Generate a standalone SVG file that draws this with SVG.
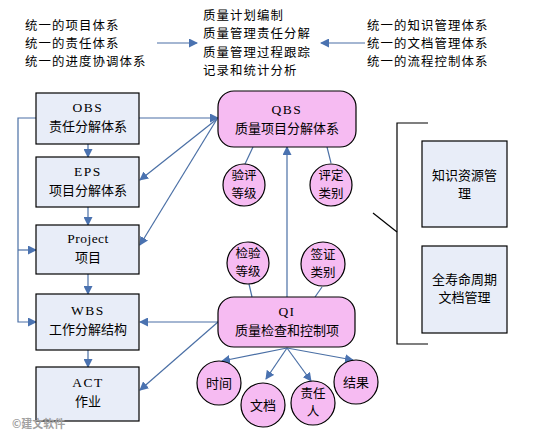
<svg xmlns="http://www.w3.org/2000/svg" width="543" height="441" viewBox="0 0 543 441">
<style>
.box{fill:#e8edf8;stroke:#000;stroke-width:1.2}
.pk{fill:#f6bbf2;stroke:#000;stroke-width:1.2}
.t{font-family:"Noto Sans CJK SC","Liberation Sans",sans-serif;font-size:13px;fill:#000}
.tt{font-size:12.4px;letter-spacing:1.1px}
.s{font-size:12.5px}
.c{text-anchor:middle}
.lat{font-family:"Liberation Serif","Noto Sans CJK SC",serif;font-size:13.5px;letter-spacing:1.5px}
.ln{fill:none;stroke:#4a6fa5;stroke-width:1.2}
.bk{fill:none;stroke:#000;stroke-width:1.2}
</style>
<defs>
<marker id="ar" markerWidth="9" markerHeight="9" refX="8" refY="4.5" orient="auto" markerUnits="userSpaceOnUse">
<path d="M0,0 L9,4.5 L0,9 Z" fill="#4a72b0"/>
</marker>
</defs>

<g id="top-texts">
<text class="t tt" x="25" y="29.5">统一的项目体系</text>
<text class="t tt" x="25" y="47.5">统一的责任体系</text>
<text class="t tt" x="25" y="65.5">统一的进度协调体系</text>
<text class="t tt" x="203" y="19.5">质量计划编制</text>
<text class="t tt" x="203" y="38">质量管理责任分解</text>
<text class="t tt" x="203" y="56.5">质量管理过程跟踪</text>
<text class="t tt" x="203" y="75">记录和统计分析</text>
<text class="t tt" x="367" y="29.5">统一的知识管理体系</text>
<text class="t tt" x="367" y="47.5">统一的文档管理体系</text>
<text class="t tt" x="367" y="65.5">统一的流程控制体系</text>
</g>

<g id="connectors">
<path class="ln" d="M157,43 H197" marker-end="url(#ar)"/>
<path class="ln" d="M365,43 H321" marker-end="url(#ar)"/>
<path class="ln" d="M88,144 V157" marker-end="url(#ar)"/>
<path class="ln" d="M88,207 V225" marker-end="url(#ar)"/>
<path class="ln" d="M88,274 V294" marker-end="url(#ar)"/>
<path class="ln" d="M88,350 V367" marker-end="url(#ar)"/>
<path class="ln" d="M36,118 H18 V322 H36" marker-end="url(#ar)"/>
<path class="ln" d="M18,250 H36" marker-end="url(#ar)"/>
<path class="ln" d="M139,118 H218" marker-end="url(#ar)"/>
<path class="ln" d="M217,119 L140,180" marker-end="url(#ar)"/>
<path class="ln" d="M217,119 L140,245" marker-end="url(#ar)"/>
<path class="ln" d="M218,322 H140" marker-end="url(#ar)"/>
<path class="ln" d="M218,322 L140,390" marker-end="url(#ar)"/>
<path class="ln" d="M287,297 V147" marker-end="url(#ar)"/>
<path class="ln" d="M287,348 L222,361" marker-end="url(#ar)"/>
<path class="ln" d="M287,348 L266,379" marker-end="url(#ar)"/>
<path class="ln" d="M287,348 L311,381" marker-end="url(#ar)"/>
<path class="ln" d="M287,348 L353,360" marker-end="url(#ar)"/>
<path class="ln" d="M245,164 L253,147"/>
<path class="ln" d="M331,163 L327,147"/>
<path class="ln" d="M249,284 L252,297"/>
<path class="ln" d="M322,287 L315,297"/>
<path class="bk" d="M428,123 H397 V344 H428"/>
<path class="bk" d="M373,213 L397,232"/>
</g>

<g id="OBS"><rect class="box" x="36" y="93" width="103" height="51"/>
<text class="t c lat" x="88" y="112">OBS</text><text class="t c" x="88" y="131">责任分解体系</text></g>
<g id="EPS"><rect class="box" x="36" y="157" width="103" height="50"/>
<text class="t c lat" x="88" y="176">EPS</text><text class="t c" x="88" y="195">项目分解体系</text></g>
<g id="Project"><rect class="box" x="36" y="225" width="103" height="49"/>
<text class="t c lat" x="88" y="243" style="letter-spacing:0.5px">Project</text><text class="t c" x="88" y="262">项目</text></g>
<g id="WBS"><rect class="box" x="36" y="294" width="103" height="56"/>
<text class="t c lat" x="88" y="315">WBS</text><text class="t c" x="88" y="334">工作分解结构</text></g>
<g id="ACT"><rect class="box" x="36" y="367" width="103" height="54"/>
<text class="t c lat" x="88" y="387">ACT</text><text class="t c" x="88" y="406">作业</text></g>

<g id="QBS"><rect class="pk" x="218" y="91" width="138" height="56" rx="16"/>
<text class="t c lat" x="287" y="114">QBS</text><text class="t c" x="287" y="133">质量项目分解体系</text></g>
<g id="QI"><rect class="pk" x="218" y="297" width="137" height="50" rx="16"/>
<text class="t c lat" x="287" y="316">QI</text><text class="t c" x="287" y="335">质量检查和控制项</text></g>

<g id="c-yanping"><circle class="pk" cx="244" cy="185" r="21"/>
<text class="t c s" x="244" y="180">验评</text><text class="t c s" x="244" y="198">等级</text></g>
<g id="c-pingding"><circle class="pk" cx="331" cy="185" r="21"/>
<text class="t c s" x="331" y="180">评定</text><text class="t c s" x="331" y="198">类别</text></g>
<g id="c-jianyan"><circle class="pk" cx="248" cy="263" r="21"/>
<text class="t c s" x="248" y="258">检验</text><text class="t c s" x="248" y="276">等级</text></g>
<g id="c-qianzheng"><circle class="pk" cx="323" cy="264" r="22"/>
<text class="t c s" x="323" y="259">签证</text><text class="t c s" x="323" y="277">类别</text></g>
<g id="c-shijian"><circle class="pk" cx="219" cy="383" r="22"/>
<text class="t c" x="219" y="388">时间</text></g>
<g id="c-wendang"><circle class="pk" cx="263" cy="405" r="22"/>
<text class="t c" x="263" y="410">文档</text></g>
<g id="c-zerenren"><circle class="pk" cx="313" cy="403" r="22"/>
<text class="t c s" x="313" y="398">责任</text><text class="t c s" x="313" y="416">人</text></g>
<g id="c-jieguo"><circle class="pk" cx="356" cy="382" r="22"/>
<text class="t c" x="356" y="387">结果</text></g>

<g id="zhishi"><rect class="box" x="422" y="141" width="85" height="86"/>
<text class="t c" x="464.5" y="180">知识资源管</text><text class="t c" x="464.5" y="198">理</text></g>
<g id="quanshouming"><rect class="box" x="422" y="246" width="85" height="87"/>
<text class="t c" x="464.5" y="284">全寿命周期</text><text class="t c" x="464.5" y="302">文档管理</text></g>

<text x="12" y="428" style="font-family:'Noto Sans CJK SC',sans-serif;font-size:11px;font-weight:bold;fill:#a0a0a0">©建文软件</text>
</svg>
